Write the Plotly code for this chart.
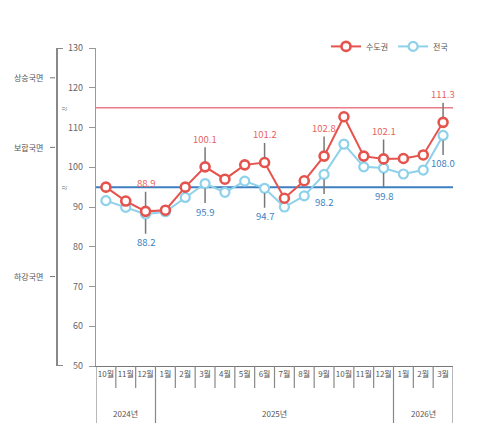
import plotly.graph_objects as go

months = ["10월", "11월", "12월", "1월", "2월", "3월", "4월", "5월", "6월",
          "7월", "8월", "9월", "10월", "11월", "12월", "1월", "2월", "3월"]
years = ["2024년", "2025년", "2026년"]
year_spans = [3, 12, 3]

capital = [95.0, 91.5, 88.9, 89.2, 95.0, 100.1, 97.0, 100.6, 101.2,
           92.2, 96.6, 102.8, 112.7, 102.8, 102.1, 102.2, 103.1, 111.3]
national = [91.6, 89.9, 88.2, 88.8, 92.4, 95.9, 93.7, 96.5, 94.7,
            90.0, 92.8, 98.2, 105.8, 100.1, 99.8, 98.3, 99.3, 108.0]
labeled = [2, 5, 8, 11, 14, 17]

upper_line = 115
lower_line = 95
phases = ["상승국면", "보합국면", "하강국면"]
phase_pos = [122.5, 105, 72.5]

RED = "#e5534d"
BLUE = "#8dd1ea"
DARK_BLUE = "#3d7fc2"
GRAY = "#777777"
FONT = "Noto Sans CJK KR"

x = list(range(len(months)))

fig = go.Figure()

fig.add_trace(go.Scatter(
    x=x, y=national, name="전국", mode="lines+markers",
    line=dict(color=BLUE, width=2),
    marker=dict(size=9, color="white", line=dict(color=BLUE, width=2.2)),
))
fig.add_trace(go.Scatter(
    x=x, y=capital, name="수도권", mode="lines+markers",
    line=dict(color=RED, width=2),
    marker=dict(size=9, color="white", line=dict(color=RED, width=2.6)),
))

# threshold lines
fig.add_hline(y=upper_line, line=dict(color="#ec7d88", width=1.5), layer="below")
fig.add_hline(y=lower_line, line=dict(color=DARK_BLUE, width=2), layer="below")

# value callouts
for i in labeled:
    fig.add_annotation(x=i, y=capital[i], text=f"{capital[i]:.1f}", showarrow=True,
                       arrowhead=0, arrowwidth=1.5, arrowcolor=GRAY, ax=0, ay=-28,
                       standoff=5, font=dict(size=9.5, color="#e8625c"))
    fig.add_annotation(x=i, y=national[i], text=f"{national[i]:.1f}", showarrow=True,
                       arrowhead=0, arrowwidth=1.5, arrowcolor=GRAY, ax=0, ay=28,
                       standoff=5, font=dict(size=9.5, color=DARK_BLUE))

# month / year table under the axis
h_month = -22 / 318
h_year = -57 / 318
bounds = [-0.5]
for s in year_spans:
    bounds.append(bounds[-1] + s)
for b in range(len(months) + 1):
    edge = b - 0.5
    y1 = h_year if edge in bounds else h_month
    fig.add_shape(type="line", xref="x", yref="paper", x0=edge, x1=edge, y0=0, y1=y1,
                  line=dict(color="#888888", width=1.2))
for k, yr in enumerate(years):
    fig.add_annotation(x=(bounds[k] + bounds[k + 1]) / 2, y=-47 / 318, xref="x", yref="paper",
                       text=yr, showarrow=False, yanchor="middle",
                       font=dict(size=8, color="#555555"))

# phase bracket on the left
bx = -39 / 357
fig.add_shape(type="line", xref="paper", yref="y", x0=bx, x1=bx, y0=50, y1=130,
              line=dict(color="#888888", width=2))
for yv in (50, 130):
    fig.add_shape(type="line", xref="paper", yref="y", x0=bx, x1=-33 / 357, y0=yv, y1=yv,
                  line=dict(color="#888888", width=2))
for yv in (upper_line, lower_line):
    fig.add_annotation(x=-37 / 357, y=yv, xref="paper", yref="y", text="≈", showarrow=False,
                       font=dict(size=7, color="#666666"), xanchor="left")
for name, yv in zip(phases, phase_pos):
    fig.add_annotation(x=-68 / 357, y=yv, xref="paper", yref="y", text=name, showarrow=False,
                       xanchor="center", yanchor="middle", font=dict(size=8, color="#555555"))
    fig.add_shape(type="line", xref="paper", yref="y", x0=-46 / 357, x1=-41 / 357,
                  y0=yv, y1=yv, line=dict(color="#777777", width=1))

fig.update_layout(
    width=500, height=448,
    margin=dict(l=96, r=47, t=48, b=82),
    paper_bgcolor="white", plot_bgcolor="white",
    font=dict(family=FONT, size=9, color="#555555"),
    showlegend=True,
    legend=dict(orientation="h", x=1.0, xanchor="right", y=1.005, yanchor="middle",
                traceorder="reversed", itemwidth=30, font=dict(size=8, color="#555555"),
                bgcolor="rgba(0,0,0,0)"),
    xaxis=dict(range=[-0.5, len(months) - 0.5], tickvals=x, ticktext=months,
               showgrid=False, zeroline=False, showline=True, linecolor="#777777",
               linewidth=1.2, ticks="", tickfont=dict(size=8, color="#555555")),
    yaxis=dict(range=[50, 130], dtick=10, showgrid=False, zeroline=False,
               showline=True, linecolor="#999999", linewidth=1.2, ticks="outside",
               ticklen=6, tickcolor="#999999", tickfont=dict(size=9, color="#666666"),
               ticklabelstandoff=4),
)

fig.write_html("out.html", config={"displayModeBar": False},
               post_script="document.body.style.margin='0';")
